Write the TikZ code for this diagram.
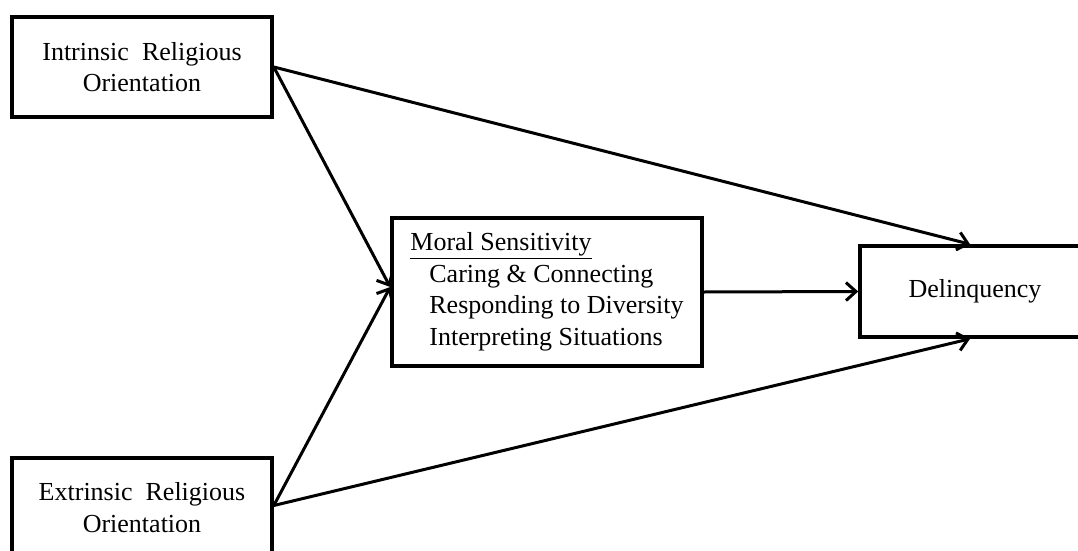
\documentclass[tikz,border=0pt]{standalone}
\usepackage{fontspec}
\setmainfont{Liberation Serif}
\usetikzlibrary{arrows.meta}
\begin{document}
\begin{tikzpicture}[x=1pt,y=-1pt,
  box/.style={draw, rectangle, line width=3.6pt, inner sep=0pt,
    font=\fontsize{26pt}{31.5pt}\selectfont, align=center},
  link/.style={line width=3pt, -{Straight Barb[length=10pt,width=18pt,line width=3pt]}}]
\useasboundingbox (0,0) rectangle (1078,551);
\clip (0,0) rectangle (1078,551);
\fill[white] (0,0) rectangle (1078,551);

% predictor boxes
\node[box, minimum width=260pt, minimum height=100pt] (intr) at (142,67)
  {Intrinsic\ \ Religious\\Orientation};
\node[box, minimum width=260pt, minimum height=99pt] (extr) at (142,507.5)
  {Extrinsic\ \ Religious\\Orientation};

% mediator
\node[box, minimum width=310pt, minimum height=148pt, align=left] (moral) at (547,292)
  {\underline{Moral Sensitivity}\\
   \hspace*{19pt}Caring \& Connecting\\
   \hspace*{19pt}Responding to Diversity\\
   \hspace*{19pt}Interpreting Situations};

% outcome
\node[box, minimum width=230pt, minimum height=91pt] (delq) at (975,291.5)
  {Delinquency};

% paths
\draw[link] (intr.east) -- ([xshift=-5pt]delq.north);
\draw[link] (intr.east) -- ([yshift=5pt]moral.west);
\draw[link] ([yshift=2pt]extr.east) -- ([yshift=5pt]moral.west);
\draw[link] ([yshift=2pt]extr.east) -- ([xshift=-5pt]delq.south);
\draw[link] (moral.east) -- (delq.west);
\end{tikzpicture}
\end{document}
